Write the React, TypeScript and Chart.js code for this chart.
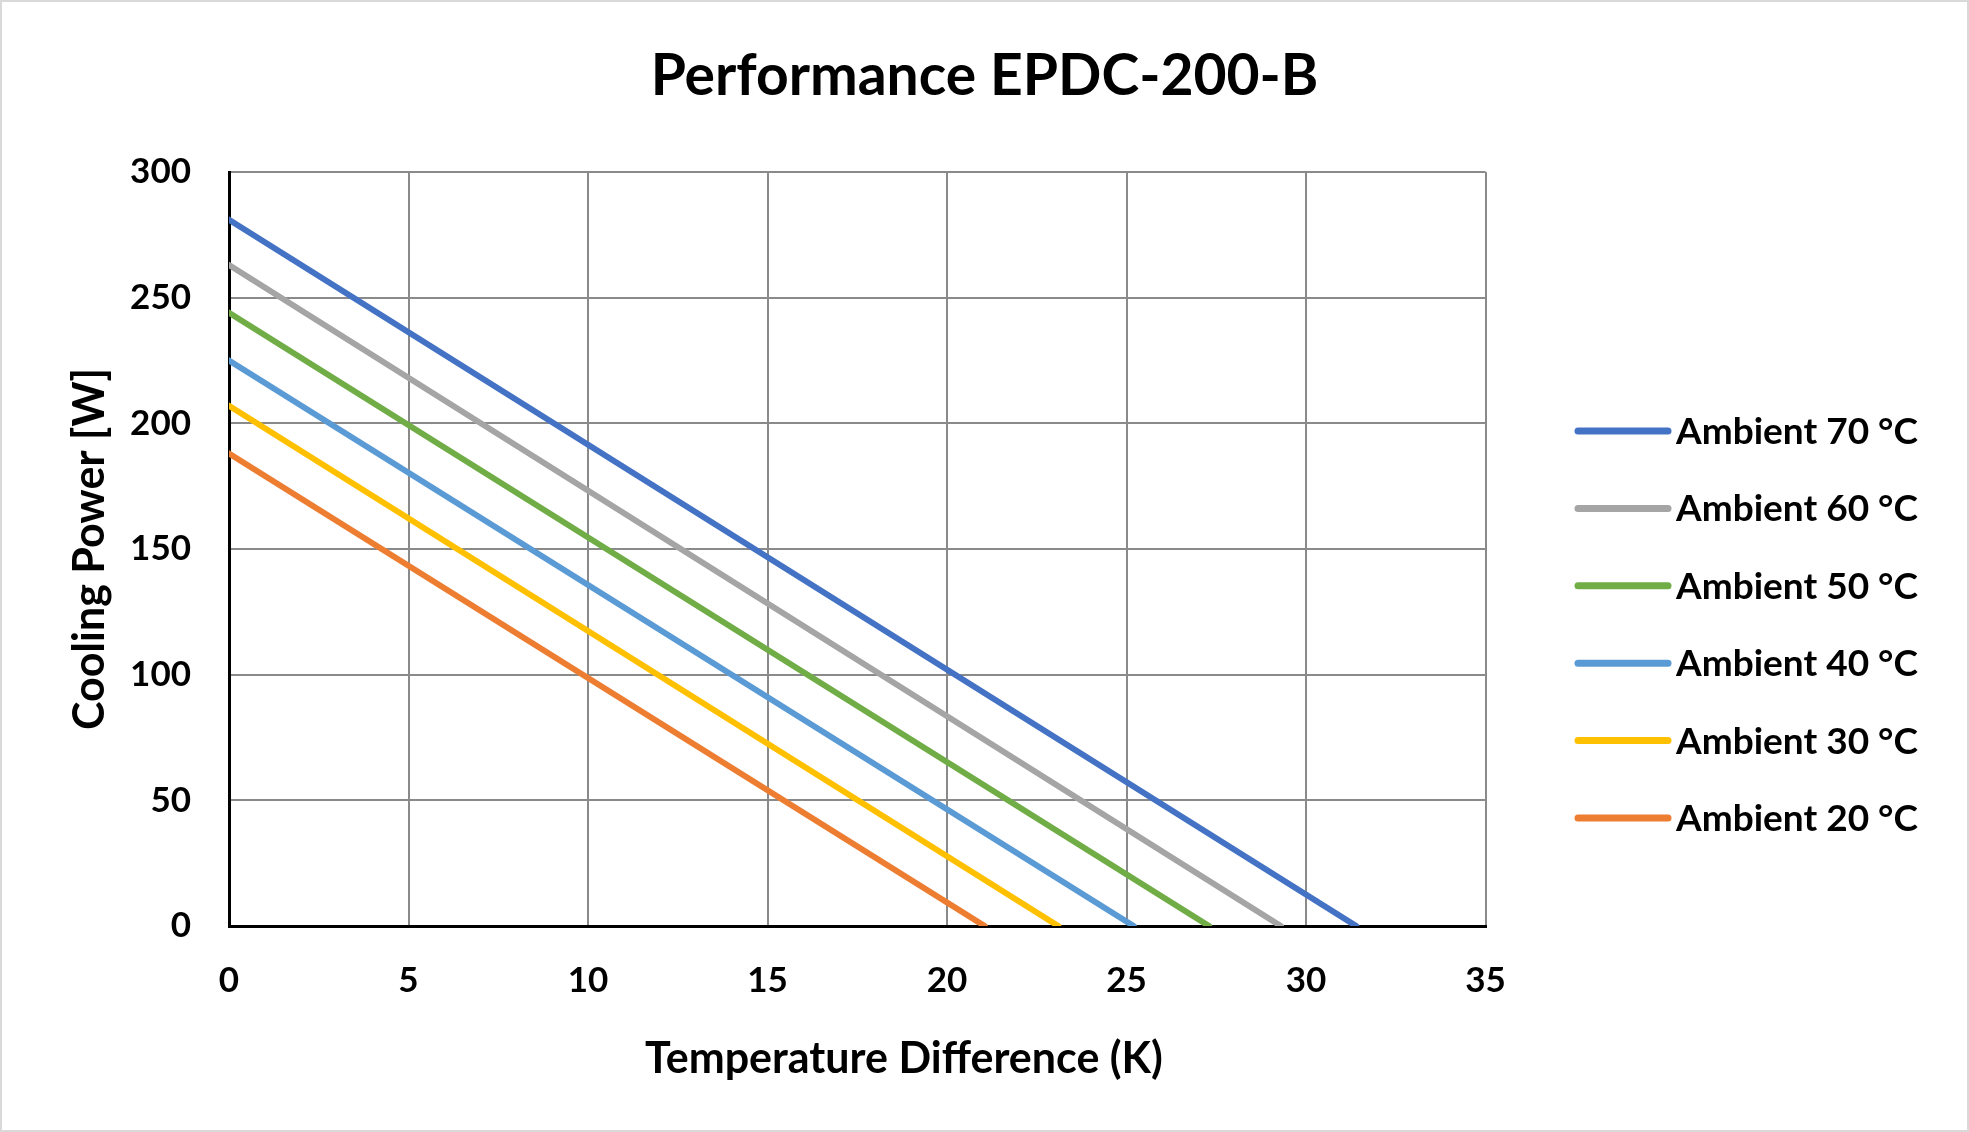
import React, { useEffect, useRef } from "react";
import { Chart, registerables } from "chart.js";

Chart.register(...registerables);

const seriesNames = [
  "Ambient 70 °C",
  "Ambient 60 °C",
  "Ambient 50 °C",
  "Ambient 40 °C",
  "Ambient 30 °C",
  "Ambient 20 °C",
];
// Max cooling power at ΔT = 0 (W)
const qMax = [281, 263, 244, 225, 207, 188];
// Max temperature difference at Q = 0 (K)
const dtMax = [31.4, 29.3, 27.3, 25.2, 23.1, 21.05];
const colors = ["#4472C4", "#A5A5A5", "#70AD47", "#5B9BD5", "#FFC000", "#ED7D31"];

const titleText = "Performance EPDC-200-B";
const xTitle = "Temperature Difference (K)";
const yTitle = "Cooling Power [W]";

const FONT = "Lato, 'Open Sans', sans-serif";

const decorPlugin = {
  id: "decor",
  afterDraw(chart: any) {
    const ctx = chart.ctx;
    ctx.save();
    // title
    ctx.fillStyle = "#000";
    ctx.font = `bold 57px ${FONT}`;
    ctx.textAlign = "center";
    ctx.textBaseline = "middle";
    ctx.fillText(titleText, chart.width / 2, 77);
    // x axis title
    ctx.font = `bold 43px ${FONT}`;
    ctx.fillText(xTitle, 904, 1059);
    // legend
    const x0 = 1578;
    const x1 = 1668;
    const y0 = 431;
    const step = 77.4;
    ctx.font = `bold 37px ${FONT}`;
    ctx.textAlign = "left";
    chart.data.datasets.forEach((ds: any, i: number) => {
      const y = y0 + i * step;
      ctx.strokeStyle = ds.borderColor;
      ctx.lineWidth = 7;
      ctx.lineCap = "round";
      ctx.beginPath();
      ctx.moveTo(x0, y);
      ctx.lineTo(x1, y);
      ctx.stroke();
      ctx.fillStyle = "#000";
      ctx.fillText(ds.label, x1 + 8, y + 1);
    });
    ctx.restore();
  },
};

export default function App() {
  const ref = useRef<HTMLCanvasElement | null>(null);
  useEffect(() => {
    if (!ref.current) return;
    const chart = new Chart(ref.current, {
      type: "line",
      data: {
        datasets: seriesNames.map((name, i) => ({
          label: name,
          data: [
            { x: 0, y: qMax[i] },
            { x: dtMax[i], y: 0 },
          ],
          borderColor: colors[i],
          backgroundColor: colors[i],
          borderWidth: 6,
          borderCapStyle: "round",
          pointRadius: 0,
          fill: false,
          tension: 0,
        })),
      },
      options: {
        animation: false,
        responsive: false,
        maintainAspectRatio: false,
        layout: { padding: { top: 172, right: 483.5, bottom: 0, left: 0 } },
        plugins: {
          legend: { display: false },
          title: { display: false },
          tooltip: { enabled: false },
        },
        scales: {
          x: {
            type: "linear",
            min: 0,
            max: 35,
            ticks: {
              stepSize: 5,
              padding: 34,
              color: "#000",
              font: { family: FONT, size: 35, weight: "bold" },
            },
            grid: { color: "#8a8a8a", lineWidth: 2, drawTicks: false },
            border: { color: "#000", width: 3 },
            title: { display: false },
            afterFit(scale: any) {
              scale.height = 1132 - 926;
            },
          },
          y: {
            type: "linear",
            min: 0,
            max: 300,
            ticks: {
              stepSize: 50,
              padding: 38,
              color: "#000",
              font: { family: FONT, size: 35, weight: "bold" },
            },
            grid: { color: "#8a8a8a", lineWidth: 2, drawTicks: false },
            border: { color: "#000", width: 3 },
            title: {
              display: true,
              text: yTitle,
              color: "#000",
              font: { family: FONT, size: 43, weight: "bold" },
              padding: { top: 64, bottom: 0 },
            },
            afterFit(scale: any) {
              scale.width = 229;
            },
          },
        },
      },
      plugins: [decorPlugin],
    } as any);
    return () => chart.destroy();
  }, []);
  return (
    <div
      style={{
        position: "fixed",
        left: 0,
        top: 0,
        width: 1969,
        height: 1132,
        background: "#fff",
      }}
    >
      <canvas
        ref={ref}
        width={1969}
        height={1132}
        style={{ display: "block", width: 1969, height: 1132 }}
      />
      <div
        style={{
          position: "absolute",
          left: 0,
          top: 0,
          width: 1969,
          height: 1132,
          boxSizing: "border-box",
          border: "2px solid #d9d9d9",
          pointerEvents: "none",
        }}
      />
    </div>
  );
}
